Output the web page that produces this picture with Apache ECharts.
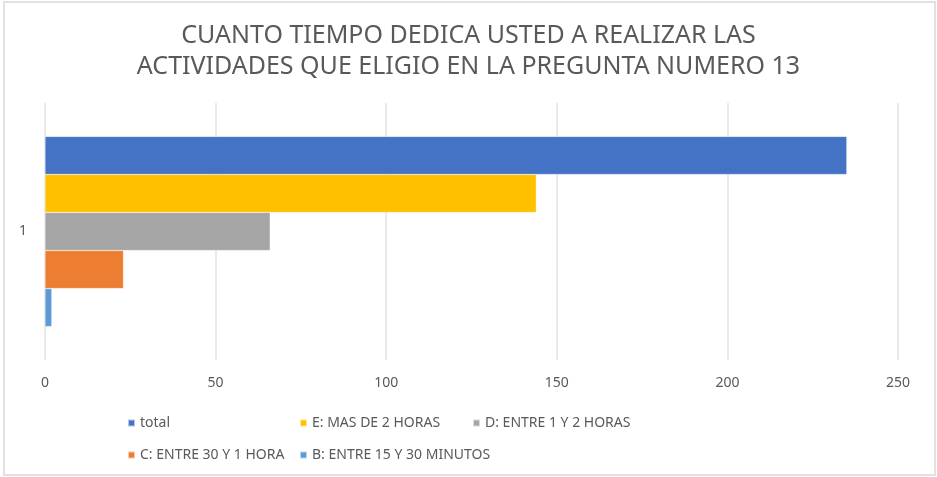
<!DOCTYPE html>
<html>
<head>
<meta charset="utf-8">
<script src="https://cdn.jsdelivr.net/npm/echarts@6/dist/echarts.min.js"></script>
<style>
  html, body { margin: 0; padding: 0; background: #fff; }
  #chart { width: 937px; height: 477px; }
</style>
</head>
<body>
<div id="chart"></div>
<script>
// datos
const categories = ['1'];
const seriesNames = ['total', 'E: MAS DE 2 HORAS', 'D: ENTRE 1 Y 2 HORAS', 'C: ENTRE 30 Y 1 HORA', 'B: ENTRE 15 Y 30 MINUTOS'];
const seriesValues = [[235], [144], [66], [23], [2]];
const seriesColors = ['#4472C4', '#FFC000', '#A5A5A5', '#ED7D31', '#5B9BD5'];
const xTicks = [0, 50, 100, 150, 200, 250];

const chart = echarts.init(document.getElementById('chart'));

const series = seriesNames.map((name, i) => ({
  name: name,
  type: 'bar',
  data: seriesValues[i],
  barGap: 0,
  barCategoryGap: '26%',
  itemStyle: { color: seriesColors[i], borderColor: 'rgba(255,255,255,0.6)', borderWidth: 0.5 }
}));

// leyenda en dos filas con columnas fijas, como en Excel
const legendPos = [[122, 411], [294, 411], [467, 411], [122, 443], [294, 443]];
const legends = seriesNames.map((name, i) => ({
  data: [name],
  left: legendPos[i][0],
  top: legendPos[i][1],
  itemWidth: 7,
  itemHeight: 7,
  itemGap: 0,
  icon: 'rect',
  textStyle: { color: '#595959', fontSize: 14, fontFamily: 'Noto Sans' }
}));

const option = {
  animation: false,
  textStyle: { fontFamily: 'Noto Sans' },
  graphic: [{
    type: 'rect',
    shape: { x: 4, y: 2, width: 931, height: 473 },
    style: { fill: 'none', stroke: '#d9d9d9', lineWidth: 1.5 }
  }],
  title: {
    text: 'CUANTO TIEMPO DEDICA USTED A REALIZAR LAS\nACTIVIDADES QUE ELIGIO EN LA PREGUNTA NUMERO 13',
    left: 'center',
    top: 15,
    textStyle: { color: '#595959', fontSize: 25, fontWeight: 'normal', lineHeight: 31, fontFamily: 'Noto Sans' }
  },
  legend: legends,
  grid: { left: 45, right: 39, top: 103, bottom: 117, containLabel: false },
  xAxis: {
    type: 'value',
    min: xTicks[0],
    max: xTicks[xTicks.length - 1],
    interval: 50,
    axisLine: { show: false },
    axisTick: { show: false },
    axisLabel: { color: '#595959', fontSize: 14, margin: 16 },
    splitLine: { lineStyle: { color: '#e3e3e3', width: 1.5 } }
  },
  yAxis: {
    type: 'category',
    data: categories,
    axisLine: { show: false },
    axisTick: { show: false },
    axisLabel: { color: '#595959', fontSize: 14, margin: 18 }
  },
  series: series
};

chart.setOption(option);
</script>
</body>
</html>
